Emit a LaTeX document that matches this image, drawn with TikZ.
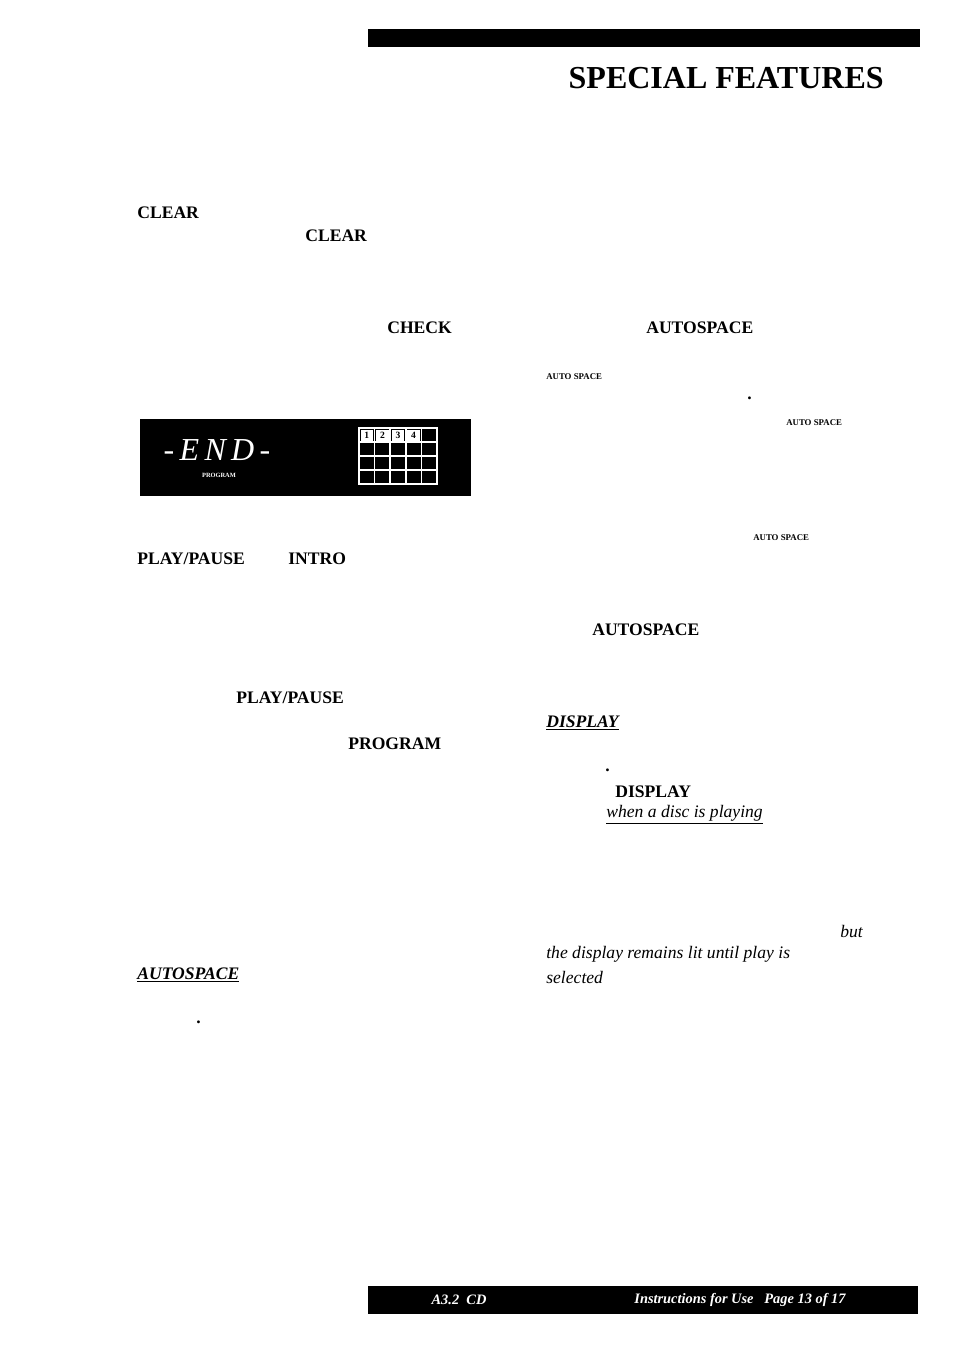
\documentclass[tikz,border=0pt]{standalone}
\usepackage{fontspec}
\setmainfont{Liberation Serif}
\begin{document}
\begin{tikzpicture}[x=0.625pt,y=-0.625pt,
  b/.style={anchor=west,inner sep=0pt,font=\bfseries\fontsize{11}{13}\selectfont},
  it/.style={anchor=west,inner sep=0pt,font=\itshape\fontsize{11}{13}\selectfont},
  sm/.style={anchor=west,inner sep=0pt,font=\bfseries\fontsize{5.5}{6}\selectfont}]
\useasboundingbox (0,0) rectangle (954,1351);
\fill (368,29) rectangle (920,47);
\node[anchor=east,inner sep=0pt,font=\bfseries\fontsize{20}{24}\selectfont] (title) at (884,78) {SPECIAL FEATURES};
\node[b] (t1) at (137,213) {CLEAR};
\node[b] (t2) at (305,236) {CLEAR};
\node[b] (t3) at (387,328) {CHECK};
\node[b] (t4) at (137,559) {PLAY/PAUSE};
\node[b] (t5) at (288,559) {INTRO};
\node[b] (t6) at (236,698) {PLAY/PAUSE};
\node[b] (t7) at (348,744) {PROGRAM};
\node[it] (t8) at (137,975) {\bfseries\underline{AUTOSPACE}};
\node[b] (d1) at (196,1022) {.};
\node[b] (r1) at (646,328) {AUTOSPACE};
\node[sm] (r2) at (546,377) {AUTO SPACE};
\node[b] (d2) at (747,398) {.};
\node[sm] (r3) at (786,423) {AUTO SPACE};
\node[sm] (r4) at (753,538) {AUTO SPACE};
\node[b] (r5) at (592,630) {AUTOSPACE};
\node[it] (r6) at (546,723) {\bfseries\underline{DISPLAY}};
\node[b] (d3) at (605,770) {.};
\node[b] (r7) at (615,792) {DISPLAY};
\node[it] (r8) at (606,815) {\underline{when a disc is playing}};
\node[it] (r9) at (840,931) {but};
\node[it] (r10) at (546,954) {the display remains lit until play is};
\node[it] (r11) at (546,977) {selected};
% display
\fill (140,419) rectangle (471,496);
\node[inner sep=0pt,text=white,font=\itshape\fontsize{20}{22}\selectfont] (end) at (217,450) {-\,E\,N\,D\,-};
\node[inner sep=0pt,text=white,font=\bfseries\fontsize{4}{5}\selectfont] (prog) at (219,475) {PROGRAM};
\foreach \c in {0,...,4} \foreach \r in {0,...,3}
  \draw[white,line width=0.9pt] (359+\c*15.6,428+\r*14) rectangle ++(15.6,14);
\foreach \c in {1,...,4} {
  \fill[white] (359+\c*15.6-15.6+1.5,429.5) rectangle ++(12.6,11);
  \node[inner sep=0pt,font=\bfseries\fontsize{6}{7}\selectfont] at (359+\c*15.6-7.8,435) {\c};}
% footer
\fill (368,1286) rectangle (918,1314);
\node[inner sep=0pt,text=white,font=\bfseries\itshape\fontsize{9}{11}\selectfont] (f1) at (459,1300) {A3.2\ \ CD};
\node[inner sep=0pt,text=white,font=\bfseries\itshape\fontsize{9}{11}\selectfont] (f2) at (740,1300) {Instructions for Use\ \ \ Page 13 of 17};
\end{tikzpicture}
\end{document}
